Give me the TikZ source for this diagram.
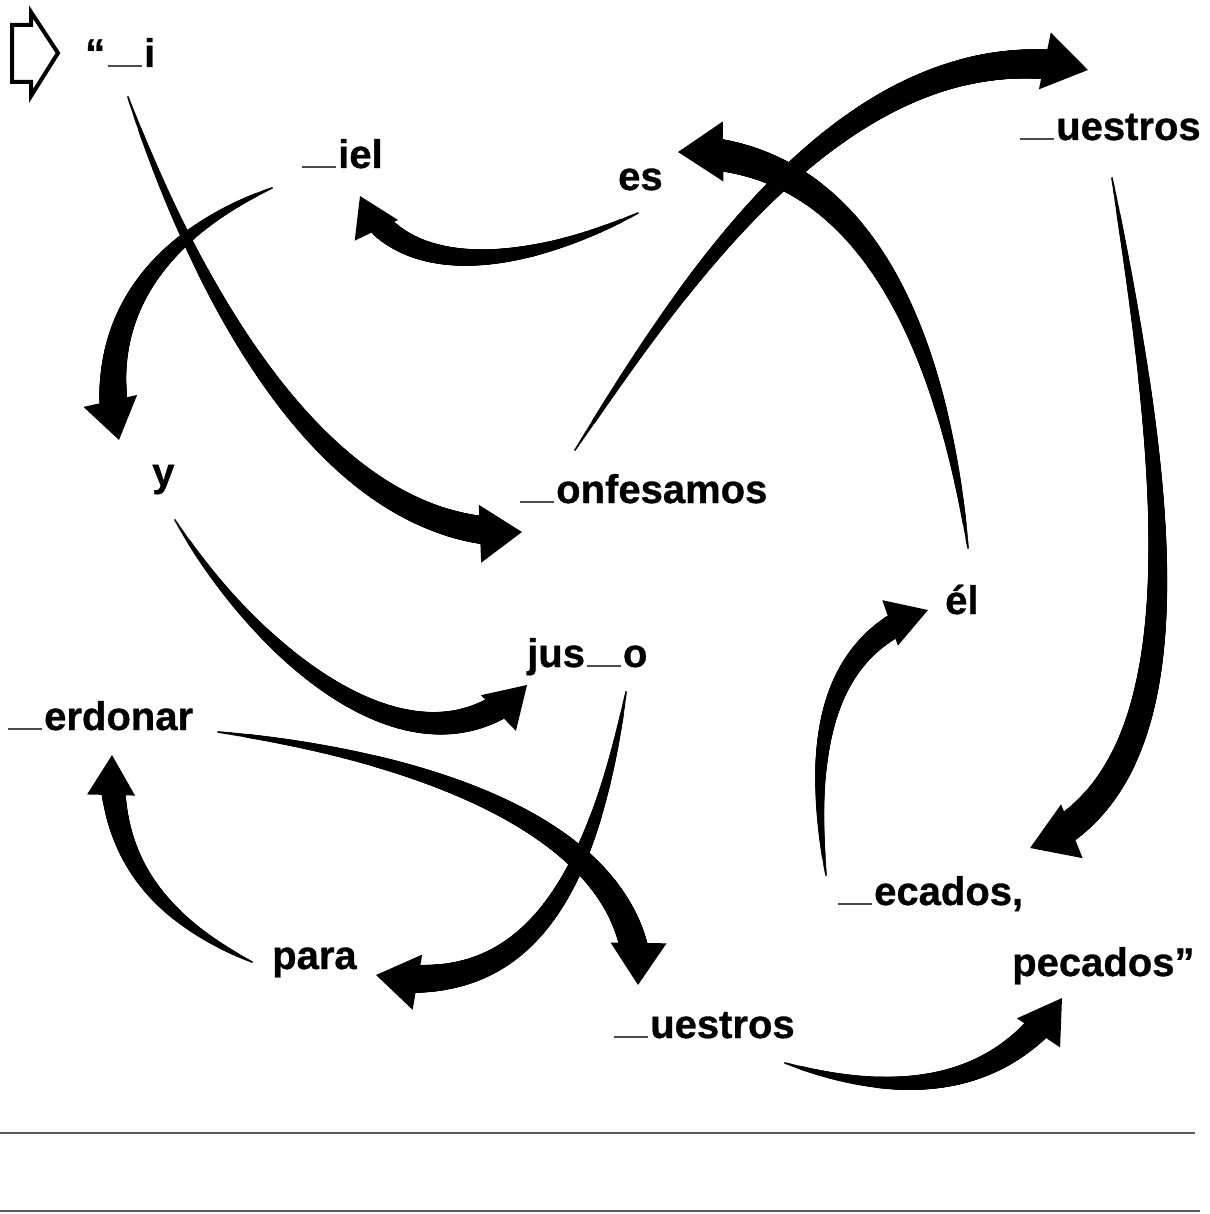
\documentclass[tikz,border=0pt]{standalone}
\usepackage{fontspec}
\setmainfont{Liberation Sans}[BoldFeatures={FakeBold=0.8}]
\usetikzlibrary{decorations.markings}
\newcommand\blank{{\color{black!70}\rule{34pt}{1.6pt}}\kern2pt}
% #1 r0, #2 r1, #3 head width, #4 head length, #5 path
\newcommand\tarr[5]{%
  \path[decoration={markings,
      mark=between positions 0 and -#4pt step 1.1pt with {%
        \pgfmathsetmacro\tpos{max(0,\pgfkeysvalueof{/pgf/decoration/mark info/distance from start}/(\pgfdecoratedpathlength-#4))}%
        \pgfmathsetmacro\rr{#1+(#2-#1)*(\tpos^0.9)}%
        \fill (0,0) circle[radius=\rr pt];}},
      decorate] #5;
  \path[decoration={markings,
      mark=at position 0.9999 with {\fill (0pt,0pt) -- ({-#4pt},{#3pt/2}) -- ({-#4pt},{-#3pt/2}) -- cycle;}},
      decorate] #5;
}
\begin{document}
\begin{tikzpicture}[x=1pt,y=-1pt,
  w/.style={anchor=base west, inner sep=0pt, font=\fontsize{40}{48}\selectfont\bfseries}]
\useasboundingbox (0,0) rectangle (1209,1214);
% hollow start arrow
\draw[line width=4pt, line join=miter] (12,25) -- (31,25) -- (31,12) -- (58,53) -- (31,96) -- (31,82) -- (12,82) -- cycle;
% words
\node[w] (i) at (85,67) {“\kern3pt\blank i};
\node[w] (iel) at (302,168) {\blank iel};
\node[w] (es) at (618,190) {es};
\node[w] (nu1) at (1020,140) {\blank uestros};
\node[w] (y) at (152,486) {y};
\node[w] (conf) at (520,503) {\blank onfesamos};
\node[w] (el) at (945,614) {él};
\node[w] (justo) at (527,667) {jus\kern2pt\blank o};
\node[w] (perd) at (8,730) {\blank erdonar};
\node[w] (pec1) at (838,905) {\blank ecados,};
\node[w] (para) at (272,969) {para};
\node[w] (pec2) at (1012,976) {pecados”};
\node[w] (nu2) at (614,1038) {\blank uestros};
% connector end points
\coordinate (s1) at (128,97);   \coordinate (e1) at (522,532);
\coordinate (s2) at (272,188);  \coordinate (e2) at (119,440);
\coordinate (s3) at (638,213);  \coordinate (e3) at (360,196);
\coordinate (s4) at (575,450);  \coordinate (e4) at (1088,70);
\coordinate (s5) at (968,548);  \coordinate (e5) at (678,152);
\coordinate (s6) at (1112,178); \coordinate (e6) at (1030,848);
\coordinate (s7) at (175,520);  \coordinate (e7) at (527,685);
\coordinate (s8) at (826,875);  \coordinate (e8) at (928,610);
\coordinate (s9) at (626,692);  \coordinate (e9) at (376,975);
\coordinate (s10) at (218,732); \coordinate (e10) at (638,985);
\coordinate (s11) at (252,962); \coordinate (e11) at (112,755);
\coordinate (s12) at (785,1063);\coordinate (e12) at (1062,998);
% tapered arrows
\tarr{1}{14}{58}{42}{(s1) .. controls (200,300) and (330,540) .. (e1)}
\tarr{1}{14}{55}{40}{(s2) .. controls (170,230) and (90,310) .. (e2)}
\tarr{1}{12}{48}{38}{(s3) .. controls (520,270) and (400,280) .. (e3)}
\tarr{1}{15}{58}{44}{(s4) .. controls (680,290) and (850,20) .. (e4)}
\tarr{1}{16}{60}{45}{(s5) .. controls (940,330) and (860,150) .. (e5)}
\tarr{1}{15}{58}{45}{(s6) .. controls (1170,500) and (1200,780) .. (e6)}
\tarr{1}{13}{50}{40}{(s7) .. controls (260,660) and (420,790) .. (e7)}
\tarr{1}{12}{48}{40}{(s8) .. controls (805,720) and (840,640) .. (e8)}
\tarr{1}{14}{56}{42}{(s9) .. controls (590,900) and (520,1000) .. (e9)}
\tarr{1}{14}{56}{42}{(s10) .. controls (450,760) and (640,840) .. (e10)}
\tarr{1}{12}{48}{40}{(s11) .. controls (140,910) and (110,840) .. (e11)}
\tarr{1}{13}{52}{42}{(s12) .. controls (900,1100) and (1000,1090) .. (e12)}
% answer lines
\draw[black!65, line width=1.8pt] (0,1133) -- (1195,1133);
\draw[black!65, line width=2pt] (0,1211) -- (1200,1211);
\end{tikzpicture}
\end{document}
